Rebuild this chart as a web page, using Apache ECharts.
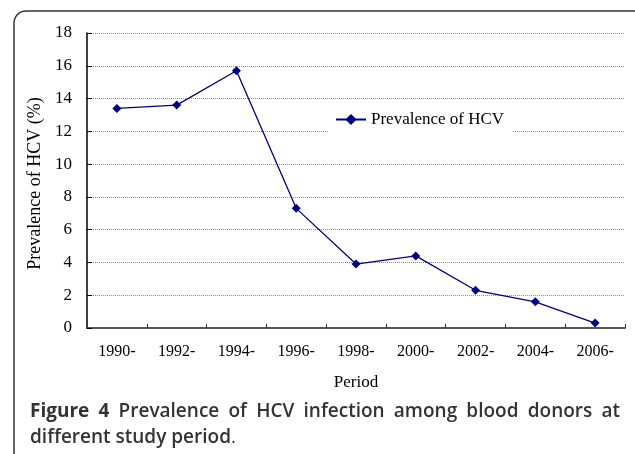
<!DOCTYPE html>
<html>
<head>
<meta charset="utf-8">
<script src="https://cdn.jsdelivr.net/npm/echarts@6/dist/echarts.min.js"></script>
<style>
  html, body { margin: 0; padding: 0; background: #fff; }
  #chart { width: 635px; height: 454px; }
</style>
</head>
<body>
<div id="chart"></div>
<script>
const periods = ['1990-', '1992-', '1994-', '1996-', '1998-', '2000-', '2002-', '2004-', '2006-']
const prevalence = [13.4, 13.6, 15.7, 7.3, 3.9, 4.4, 2.3, 1.6, 0.3]
const yTicks = { min: 0, max: 18, interval: 2 }

const serif = '"Liberation Serif", "DejaVu Serif", serif'
const sans = '"Open Sans", "Noto Sans", sans-serif'

const chart = echarts.init(document.getElementById('chart'))

// caption line 1 is justified between x=30 and x=620, so spread the words out
const capSize = 19
const line1 = [
  { t: 'Figure', w: 'bold' }, { t: '4', w: 'bold' }, { t: 'Prevalence', w: 600 }, { t: 'of', w: 600 },
  { t: 'HCV', w: 600 }, { t: 'infection', w: 600 }, { t: 'among', w: 600 }, { t: 'blood', w: 600 },
  { t: 'donors', w: 600 }, { t: 'at', w: 600 }
]
const ctx = document.createElement('canvas').getContext('2d')
const widths = line1.map(w => {
  ctx.font = w.w + ' ' + capSize + 'px ' + sans
  return ctx.measureText(w.t).width
})
const total = widths.reduce((a, b) => a + b, 0)
const gap = (620 - 30 - total) / (line1.length - 1)
let cx = 30
const captionWords = line1.map((w, i) => {
  const el = {
    type: 'text',
    x: cx,
    y: 412,
    style: {
      text: w.t,
      fontFamily: sans,
      fontSize: capSize,
      fontWeight: w.w,
      fill: '#333',
      verticalAlign: 'middle'
    },
    silent: true
  }
  cx += widths[i] + gap
  return el
})

const option = {
  backgroundColor: '#fff',
  animation: false,
  grid: { left: 87, right: 10, top: 33, bottom: 126 },
  legend: {
    left: 328,
    top: 107,
    padding: [4, 8, 4, 7],
    backgroundColor: '#fff',
    itemWidth: 30,
    itemHeight: 14,
    itemGap: 5,
    textStyle: { fontFamily: serif, fontSize: 17, color: '#000' },
    data: ['Prevalence of HCV']
  },
  xAxis: {
    type: 'category',
    data: periods,
    boundaryGap: true,
    name: 'Period',
    nameLocation: 'middle',
    nameGap: 46,
    nameTextStyle: { fontFamily: serif, fontSize: 17, color: '#000' },
    axisLine: { lineStyle: { color: '#555', width: 2 } },
    axisTick: { show: true, inside: true, length: 4, lineStyle: { color: '#333', width: 1 } },
    axisLabel: { fontFamily: serif, fontSize: 16, color: '#000', margin: 16 },
    splitLine: { show: false }
  },
  yAxis: {
    type: 'value',
    min: yTicks.min,
    max: yTicks.max,
    interval: yTicks.interval,
    name: 'Prevalence of HCV (%)',
    nameLocation: 'middle',
    nameGap: 37,
    nameTextStyle: { fontFamily: serif, fontSize: 18, color: '#000', padding: [0, 6, 0, 0] },
    axisLine: { show: true, lineStyle: { color: '#000', width: 1.5 } },
    axisTick: { show: true, inside: true, length: 5, lineStyle: { color: '#000', width: 1 } },
    axisLabel: { fontFamily: serif, fontSize: 17, color: '#000', margin: 15 },
    splitLine: { show: true, lineStyle: { color: '#8c8c8c', width: 1, type: [1, 1] } }
  },
  series: [
    {
      name: 'Prevalence of HCV',
      type: 'line',
      data: prevalence,
      symbol: 'diamond',
      symbolSize: 9,
      lineStyle: { color: '#000080', width: 1.3 },
      itemStyle: { color: '#000080' }
    }
  ],
  graphic: [
    {
      type: 'rect',
      shape: { x: 14, y: 11, width: 640, height: 470, r: 12 },
      style: { fill: null, stroke: '#333', lineWidth: 1.5 },
      silent: true
    },
    ...captionWords,
    {
      type: 'text',
      x: 30,
      y: 438,
      style: {
        text: '{s|different study period}{n|.}',
        verticalAlign: 'middle',
        rich: {
          s: { fontFamily: sans, fontSize: capSize, fontWeight: 600, fill: '#333' },
          n: { fontFamily: sans, fontSize: capSize, fontWeight: 'normal', fill: '#333' }
        }
      },
      silent: true
    }
  ]
}

chart.setOption(option)
</script>
</body>
</html>
